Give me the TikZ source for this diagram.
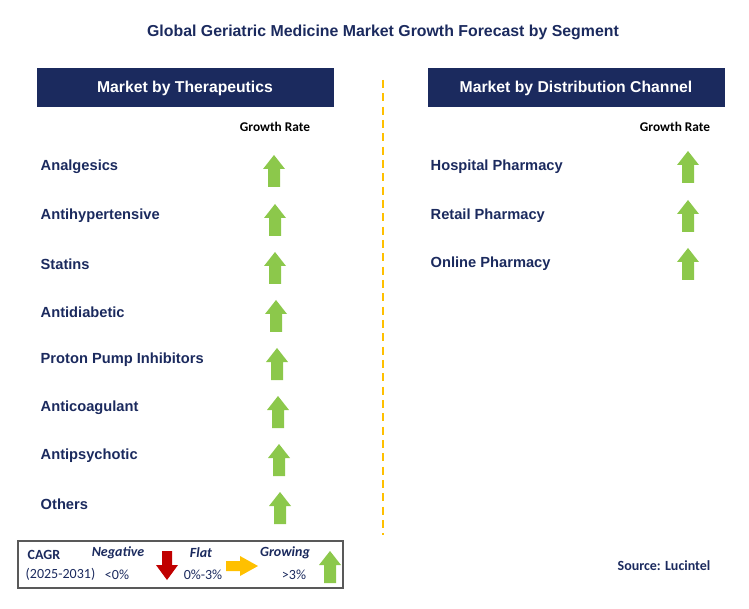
\documentclass[tikz,border=0pt]{standalone}
\usepackage{fontspec}
\setmainfont{Liberation Sans}
\newfontfamily\calfont{Carlito}
\begin{document}
\begin{tikzpicture}[x=0.75pt,y=-0.75pt,
  lab/.style={anchor=west,font=\bfseries\fontsize{11}{13}\selectfont,text=titlec},
  hdr/.style={fill=titlec,text=white,font=\bfseries\fontsize{11.8}{15}\selectfont,minimum width=222.75pt,minimum height=29.25pt,inner sep=0},
  gr/.style={font=\calfont\bfseries\fontsize{10}{12}\selectfont},
  lg/.style={font=\calfont\fontsize{10.5}{12}\selectfont,text=titlec},
  lgb/.style={font=\calfont\bfseries\itshape\fontsize{10.5}{12}\selectfont,text=titlec}]
\definecolor{titlec}{HTML}{1B2A5E}
\definecolor{upg}{HTML}{8CC84B}
\definecolor{dnr}{HTML}{C00000}
\definecolor{flo}{HTML}{FFC000}
\newcommand{\uparr}[3]{\fill[#3] (#1-6,#2+16)--(#1-6,#2-2)--(#1-11,#2-2)--(#1,#2-16)--(#1+11,#2-2)--(#1+6,#2-2)--(#1+6,#2+16)--cycle;}
\useasboundingbox (0,0) rectangle (749,609);
\node[font=\bfseries\fontsize{11.9}{14}\selectfont,text=titlec] (title) at (383,32) {Global Geriatric Medicine Market Growth Forecast by Segment};
\node[hdr] (h1) at (185,88) {Market by Therapeutics};
\node[hdr] (h2) at (576,88) {Market by Distribution Channel};
\coordinate (d1) at (383,80); \coordinate (d2) at (383,535);
\draw[flo,line width=1pt,dash pattern=on 6pt off 4pt] (d1)--(d2);
\node[gr] (g1) at (275,127) {Growth Rate};
\node[gr] (g2) at (675,127) {Growth Rate};
\foreach \t/\y/\ax [count=\i] in {Analgesics/167/274,Antihypertensive/216/275,Statins/264/275,Antidiabetic/312/276,Proton Pump Inhibitors/360/277,Anticoagulant/408/278,Antipsychotic/456/279,Others/504/280}{
  \node[lab] (l\i) at (36,\y) {\t};
  \uparr{\ax}{\y+4}{upg}
}
\foreach \t/\y [count=\i] in {Hospital Pharmacy/167,Retail Pharmacy/216,Online Pharmacy/264}{
  \node[lab] (r\i) at (426,\y) {\t};
  \uparr{688}{\y}{upg}
}
\draw[gray!70!black,line width=0.8pt] (18,541) rectangle (343,588);
\node[anchor=west,font=\calfont\bfseries\fontsize{10.5}{12}\selectfont,text=titlec] (c1) at (23,555) {CAGR};
\node[anchor=west,lg] (c2) at (21,574) {(2025-2031)};
\node[lgb] (n1) at (118,553) {Negative};
\node[lg] (n2) at (117,575) {<0\%};
\fill[dnr] (162,551)--(162,565)--(156,565)--(167,580)--(178,565)--(172,565)--(172,551)--cycle;
\node[lgb] (f1) at (201,553) {Flat};
\node[lg] (f2) at (203,575) {0\%-3\%};
\fill[flo] (226,561)--(240,561)--(240,556)--(258,566)--(240,576)--(240,571)--(226,571)--cycle;
\node[lgb] (w1) at (285,553) {Growing};
\node[lg] (w2) at (294,575) {>3\%};
\uparr{330}{567}{upg}
\node[font=\calfont\bfseries\fontsize{10.5}{12}\selectfont,text=titlec] (src) at (664,566) {Source: Lucintel};
\end{tikzpicture}
\end{document}
